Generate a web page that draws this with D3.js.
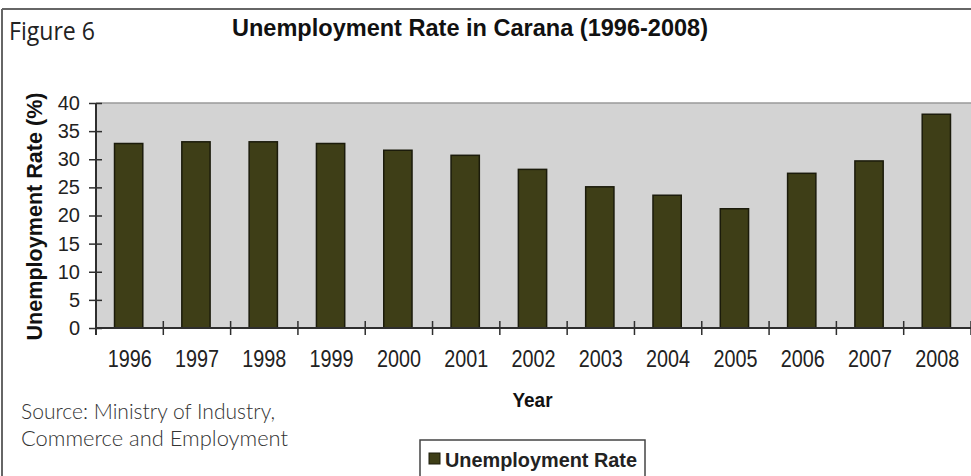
<!DOCTYPE html>
<html>
<head>
<meta charset="utf-8">
<script src="https://cdn.jsdelivr.net/npm/d3@7/dist/d3.min.js"></script>
<style>
  html, body { margin: 0; padding: 0; background: #fff; }
  svg { display: block; }
</style>
</head>
<body>
<svg id="chart" width="971" height="476"></svg>
<script>
// Unemployment rate in Carana, 1996-2008 (%)
const years = ["1996", "1997", "1998", "1999", "2000", "2001", "2002",
               "2003", "2004", "2005", "2006", "2007", "2008"];
const unemploymentRate = [32.8, 33.1, 33.1, 32.8, 31.6, 30.7, 28.2,
                          25.1, 23.6, 21.2, 27.5, 29.7, 38.0];
const yTicks = [0, 5, 10, 15, 20, 25, 30, 35, 40];

const figureLabel = "Figure 6";
const chartTitle = "Unemployment Rate in Carana (1996-2008)";
const yTitle = "Unemployment Rate (%)";
const xTitle = "Year";
const seriesName = "Unemployment Rate";
const sourceLines = ["Source: Ministry of Industry,", "Commerce and Employment"];

const svg = d3.select("#chart");
const W = 971, H = 476;
const plot = { left: 96, right: 971, top: 103, bottom: 328 };

const barFill = "#3e3e17";
const barStroke = "#1b1b0b";
const axisColor = "#2e2e2e";
const arial = "Arial, 'Liberation Sans', sans-serif";
const lightSans = "'Open Sans', 'Noto Sans', sans-serif";
const noteSans = "Lato, 'Open Sans', sans-serif";

// outer frame (top and left edges)
svg.append("line").attr("x1", 2).attr("x2", W).attr("y1", 9).attr("y2", 9)
  .attr("stroke", "#666").attr("stroke-width", 2);
svg.append("line").attr("x1", 2).attr("x2", 2).attr("y1", 9).attr("y2", H)
  .attr("stroke", "#666").attr("stroke-width", 2);

// header
svg.append("text").attr("x", 9).attr("y", 40)
  .attr("font-family", lightSans).attr("font-size", 26).attr("fill", "#222")
  .attr("textLength", 86).attr("lengthAdjust", "spacingAndGlyphs")
  .text(figureLabel);

svg.append("text").attr("x", 470).attr("y", 36).attr("text-anchor", "middle")
  .attr("font-family", arial).attr("font-weight", "bold").attr("font-size", 23)
  .attr("fill", "#111")
  .attr("textLength", 476).attr("lengthAdjust", "spacingAndGlyphs")
  .text(chartTitle);

// scales
const x = d3.scaleBand().domain(years).range([plot.left, plot.right]).padding(0);
const y = d3.scaleLinear().domain([0, 40]).range([plot.bottom, plot.top]);
const barW = x.step() * 0.42;

// plot area
svg.append("rect")
  .attr("x", plot.left).attr("y", plot.top)
  .attr("width", plot.right - plot.left).attr("height", plot.bottom - plot.top)
  .attr("fill", "#d3d3d3");
svg.append("line")
  .attr("x1", plot.left).attr("x2", plot.right)
  .attr("y1", plot.top).attr("y2", plot.top)
  .attr("stroke", "#9a9a9a").attr("stroke-width", 1.5);

// bars
svg.append("g").selectAll("rect")
  .data(years.map((yr, i) => ({ yr, v: unemploymentRate[i] })))
  .join("rect")
  .attr("x", d => x(d.yr) + x.bandwidth() / 2 - barW / 2 - 1)
  .attr("y", d => y(d.v))
  .attr("width", barW)
  .attr("height", d => y(0) - y(d.v))
  .attr("fill", barFill)
  .attr("stroke", barStroke)
  .attr("stroke-width", 1.5);

// y axis with crossing ticks
const yAxis = svg.append("g").attr("transform", `translate(${plot.left},0)`)
  .call(d3.axisLeft(y).tickValues(yTicks).tickSize(7).tickSizeOuter(0).tickPadding(9));
yAxis.select(".domain").remove();
yAxis.selectAll(".tick line")
  .attr("x1", -7).attr("x2", 6)
  .attr("stroke", axisColor).attr("stroke-width", 1.5);
yAxis.selectAll(".tick text")
  .attr("x", -16)
  .attr("font-family", arial).attr("font-size", 20).attr("fill", "#222");
svg.append("line")
  .attr("x1", plot.left).attr("x2", plot.left)
  .attr("y1", plot.top).attr("y2", plot.bottom + 7)
  .attr("stroke", axisColor).attr("stroke-width", 2);

// x axis: ticks between categories, labels centred on each category
const xAxis = svg.append("g").attr("transform", `translate(0,${plot.bottom})`)
  .call(d3.axisBottom(x).tickSize(0).tickPadding(0));
xAxis.select(".domain").remove();
xAxis.selectAll(".tick text")
  .attr("y", 39).attr("dy", 0)
  .attr("font-family", arial).attr("font-size", 24).attr("fill", "#222")
  .attr("textLength", 44).attr("lengthAdjust", "spacingAndGlyphs");
xAxis.selectAll(".tick line").remove();
xAxis.append("g").selectAll("line")
  .data(years)
  .join("line")
  .attr("x1", d => x(d) + x.step())
  .attr("x2", d => x(d) + x.step())
  .attr("y1", -7).attr("y2", 7)
  .attr("stroke", axisColor).attr("stroke-width", 1.5);
svg.append("line")
  .attr("x1", plot.left).attr("x2", plot.right)
  .attr("y1", plot.bottom).attr("y2", plot.bottom)
  .attr("stroke", axisColor).attr("stroke-width", 2);

// axis titles
svg.append("text")
  .attr("transform", `translate(42,${(plot.top + plot.bottom) / 2 + 1}) rotate(-90)`)
  .attr("text-anchor", "middle")
  .attr("font-family", arial).attr("font-weight", "bold").attr("font-size", 22)
  .attr("fill", "#111")
  .attr("textLength", 248).attr("lengthAdjust", "spacingAndGlyphs")
  .text(yTitle);

svg.append("text").attr("x", (plot.left + plot.right) / 2 - 1).attr("y", 407)
  .attr("text-anchor", "middle")
  .attr("font-family", arial).attr("font-weight", "bold").attr("font-size", 21)
  .attr("fill", "#111")
  .attr("textLength", 40).attr("lengthAdjust", "spacingAndGlyphs")
  .text(xTitle);

// source note
svg.append("g").selectAll("text").data(sourceLines).join("text")
  .attr("x", 21).attr("y", (d, i) => 419 + i * 27)
  .attr("font-family", noteSans).attr("font-weight", 300).attr("font-size", 22)
  .attr("fill", "#333")
  .attr("textLength", (d, i) => i === 0 ? 254 : 267)
  .attr("lengthAdjust", "spacingAndGlyphs")
  .text(d => d);

// legend
const legend = svg.append("g");
legend.append("rect")
  .attr("x", 420).attr("y", 440).attr("width", 225).attr("height", 50)
  .attr("fill", "#fff").attr("stroke", "#444").attr("stroke-width", 1.5);
legend.append("rect")
  .attr("x", 429).attr("y", 453).attr("width", 11).attr("height", 11)
  .attr("fill", barFill).attr("stroke", barStroke).attr("stroke-width", 1);
legend.append("text").attr("x", 445).attr("y", 467)
  .attr("font-family", arial).attr("font-weight", "bold").attr("font-size", 20)
  .attr("fill", "#222")
  .attr("textLength", 192).attr("lengthAdjust", "spacingAndGlyphs")
  .text(seriesName);
</script>
</body>
</html>
